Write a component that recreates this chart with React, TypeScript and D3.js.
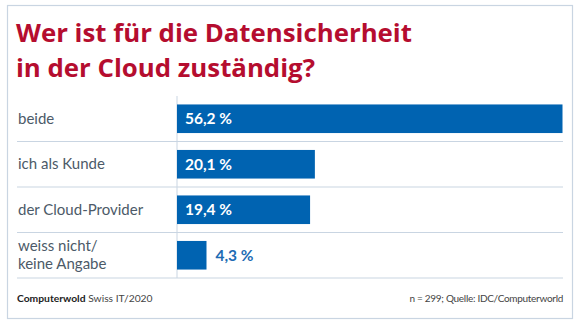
import React from "react";
import * as d3 from "d3";

const categories = ["beide", "ich als Kunde", "der Cloud-Provider", "weiss nicht/\nkeine Angabe"];
const values = [56.2, 20.1, 19.4, 4.3];
const titleLines = ["Wer ist für die Datensicherheit", "in der Cloud zuständig?"];
const footLeftBold = "Computerwold";
const footLeft = " Swiss IT/2020";
const footRight = "n = 299; Quelle: IDC/Computerworld";

const W = 580, H = 328;
const FONT = "Lato, 'Open Sans', sans-serif";
const TITLE_FONT = "'Open Sans', sans-serif";

export default function App() {
  const x = d3.scaleLinear().domain([0, 56.2]).range([177, 562.5]);
  const y = d3.scaleBand<number>().domain(d3.range(values.length)).range([96, 278]).paddingInner(0).paddingOuter(0);
  const bh = 28.6;
  const fmt = (v: number) => v.toFixed(1).replace(".", ",") + " %";
  return (
    <svg width={W} height={H} style={{ position: "absolute", left: 0, top: 0, background: "#fff" }} fontFamily={FONT}>
      <rect x={7.5} y={5.5} width={565} height={313} fill="#fff" stroke="#c9d5e2" strokeWidth={1.2} />
      {titleLines.map((t, i) => (
        <text key={i} x={16} y={42 + i * 35} fill="#b50d2f" fontSize={25.8} fontWeight={700} fontFamily={TITLE_FONT}>{t}</text>
      ))}
      <line x1={177} x2={177} y1={96} y2={278} stroke="#c9d5e2" strokeWidth={1} />
      {values.map((v, i) => {
        const y0 = y(i)!;
        const bw = y.bandwidth();
        const cy = y0 + bw / 2;
        const lines = categories[i].split("\n");
        const inside = x(v) - x(0) > 60;
        return (
          <g key={i}>
            <line x1={17} x2={563} y1={y0 + bw} y2={y0 + bw} stroke="#c9d5e2" strokeWidth={1.2} />
            <rect x={x(0)} y={cy - bh / 2} width={x(v) - x(0)} height={bh} fill="#0063b1" />
            {lines.map((l, j) => (
              <text key={j} x={18} y={cy + 5 + (j - (lines.length - 1) / 2) * 18} fontSize={15} fill="#4c5a68">{l}</text>
            ))}
            <text x={inside ? x(0) + 8 : x(v) + 9} y={cy + 5.5} fontSize={15.5} fontWeight={700} fill={inside ? "#fff" : "#1d6bb3"}>{fmt(v)}</text>
          </g>
        );
      })}
      <text x={17} y={302} fontSize={10.3} fill="#222">
        <tspan fontWeight={700}>{footLeftBold}</tspan>
        <tspan fill="#444">{footLeft}</tspan>
      </text>
      <text x={563} y={302} fontSize={10} fill="#444" textAnchor="end" letterSpacing={-0.3}>{footRight}</text>
    </svg>
  );
}
